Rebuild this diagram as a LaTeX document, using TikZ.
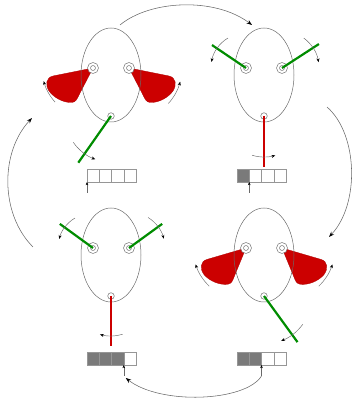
\documentclass[tikz,border=0pt]{standalone}
\usetikzlibrary{arrows.meta,calc,shapes.geometric}
\definecolor{camred}{RGB}{204,0,0}
\definecolor{leggreen}{RGB}{0,140,0}
\definecolor{linegray}{RGB}{105,105,105}
\definecolor{cellgray}{RGB}{122,122,122}
\definecolor{cellline}{RGB}{150,150,150}
\tikzset{
  x=1pt, y=1pt,
  oval/.style={ellipse, draw=linegray, line width=0.5pt, minimum width=60pt, minimum height=94pt, inner sep=0pt},
  camshape/.style={fill=camred, draw=camred!85!black, line width=0.3pt},
  greenleg/.style={draw=leggreen, line width=2.2pt},
  redleg/.style={draw=camred, line width=2.2pt},
  turn/.style={draw=linegray, line width=0.45pt, -{Stealth[length=3.8pt,width=3pt,black]}},
  flow/.style={draw=linegray, line width=0.55pt, -{Stealth[length=5.5pt,width=4pt,black]}},
  headarrow/.style={draw=linegray, line width=0.45pt, -{Stealth[length=3.2pt,width=2.6pt,black]}},
  cell/.style={rectangle, draw=cellline, line width=0.5pt, fill=white, minimum width=12.25pt, minimum height=12.5pt, inner sep=0pt, outer sep=0pt, anchor=south west},
  used/.style={fill=cellgray},
  joint/.style={draw=linegray, line width=0.45pt, fill=white},
}
% cam hinged at #1; #2 = 1 points left, -1 points right; #3 = extra tilt
\newcommand{\camat}[3]{%
  \path[camshape, shift={(#1)}, xscale=#2, rotate=#3]
    (0,0) -- (-40,-8)
    .. controls (-47,-9.5) and (-48,-17) .. (-44,-23)
    .. controls (-39,-30) and (-29,-35) .. (-21,-34.5)
    .. controls (-17,-34) and (-16,-31) .. (-14,-27) -- cycle;}
% double-ring hinge
\newcommand{\ringjoint}[1]{%
  \draw[joint] (#1) circle[radius=5.5];
  \draw[joint] (#1) circle[radius=2.5];}
% small single hinge
\newcommand{\smalljoint}[1]{\draw[joint] (#1) circle[radius=3.3];}
\begin{document}
\begin{tikzpicture}
\useasboundingbox (0,0) rectangle (352,402);

% body centres and hinge points
\foreach \n/\x/\y in {TL/111/327, TR/264/327, BL/111/147, BR/264/147}{
  \coordinate (\n) at (\x,\y);
  \coordinate (\n-l) at ($(\n)+(-18,7)$);
  \coordinate (\n-r) at ($(\n)+(18,7)$);
  \coordinate (\n-b) at ($(\n)+(0,-41)$);
}

% ---------- top left: cams out, green leg back ----------
\camat{TL-l}{1}{0}
\camat{TL-r}{-1}{0}
\node[oval] (TL-body) at (TL) {};
\ringjoint{TL-l}
\ringjoint{TL-r}
\smalljoint{TL-b}
\coordinate (TL-foot) at ($(TL-b)+(235:57)$);
\draw[greenleg] (TL-b) -- (TL-foot);
\draw[turn] ($(TL-l)+(222:51)$) arc[start angle=222, end angle=195, radius=51];
\draw[turn] ($(TL-r)+(318:53)$) arc[start angle=318, end angle=345, radius=53];
\draw[turn] ($(TL-b)+(215:46)$) arc[start angle=215, end angle=250, radius=46];

% ---------- top right: green legs up, red leg down ----------
\node[oval] (TR-body) at (TR) {};
\ringjoint{TR-l}
\ringjoint{TR-r}
\smalljoint{TR-b}
\coordinate (TR-lend) at ($(TR-l)+(146:41)$);
\coordinate (TR-rend) at ($(TR-r)+(33:44)$);
\coordinate (TR-foot) at ($(TR-b)+(270:51)$);
\draw[greenleg] (TR-l) -- (TR-lend);
\draw[greenleg] (TR-r) -- (TR-rend);
\draw[redleg] (TR-b) -- (TR-foot);
\draw[turn] ($(TR-l)+(121:35)$) arc[start angle=121, end angle=170, radius=35];
\draw[turn] ($(TR-r)+(54:37)$) arc[start angle=54, end angle=9, radius=37];
\draw[turn] ($(TR-b)+(253:41)$) arc[start angle=253, end angle=286, radius=41];

% ---------- bottom left: green legs up, red leg down ----------
\node[oval] (BL-body) at (BL) {};
\ringjoint{BL-l}
\ringjoint{BL-r}
\smalljoint{BL-b}
\coordinate (BL-lend) at ($(BL-l)+(144:41)$);
\coordinate (BL-rend) at ($(BL-r)+(36:41)$);
\coordinate (BL-foot) at ($(BL-b)+(270:50)$);
\draw[greenleg] (BL-l) -- (BL-lend);
\draw[greenleg] (BL-r) -- (BL-rend);
\draw[redleg] (BL-b) -- (BL-foot);
\draw[turn] ($(BL-l)+(121:35)$) arc[start angle=121, end angle=165, radius=35];
\draw[turn] ($(BL-r)+(58:36)$) arc[start angle=58, end angle=15, radius=36];
\draw[turn] ($(BL-b)+(287:40)$) arc[start angle=287, end angle=254, radius=40];

% ---------- bottom right: cams out, green leg forward ----------
\camat{BR-l}{1}{5}
\camat{BR-r}{-1}{5}
\node[oval] (BR-body) at (BR) {};
\ringjoint{BR-l}
\ringjoint{BR-r}
\smalljoint{BR-b}
\coordinate (BR-foot) at ($(BR-b)+(306:57)$);
\draw[greenleg] (BR-b) -- (BR-foot);
\draw[turn] ($(BR-l)+(226:53)$) arc[start angle=226, end angle=198, radius=53];
\draw[turn] ($(BR-r)+(314:53)$) arc[start angle=314, end angle=342, radius=53];
\draw[turn] ($(BR-b)+(324:48)$) arc[start angle=324, end angle=291, radius=48];

% ---------- step registers ----------
\node[cell] (TLc1) at (87,220) {};
\node[cell] (TLc2) at (TLc1.south east) {};
\node[cell] (TLc3) at (TLc2.south east) {};
\node[cell] (TLc4) at (TLc3.south east) {};

\node[cell,used] (TRc1) at (237,220) {};
\node[cell] (TRc2) at (TRc1.south east) {};
\node[cell] (TRc3) at (TRc2.south east) {};
\node[cell] (TRc4) at (TRc3.south east) {};

\node[cell,used] (BLc1) at (87,37) {};
\node[cell,used] (BLc2) at (BLc1.south east) {};
\node[cell,used] (BLc3) at (BLc2.south east) {};
\node[cell] (BLc4) at (BLc3.south east) {};

\node[cell,used] (BRc1) at (237,37) {};
\node[cell,used] (BRc2) at (BRc1.south east) {};
\node[cell] (BRc3) at (BRc2.south east) {};
\node[cell] (BRc4) at (BRc3.south east) {};

% register pointers
\coordinate (TL-ptr) at ($(TLc1.south west)+(0,-11)$);
\coordinate (TR-ptr) at ($(TRc1.south east)+(0,-11)$);
\coordinate (BL-ptr) at ($(BLc3.south east)+(0,-11)$);
\coordinate (BR-ptr) at ($(BRc2.south east)+(0,-11)$);
\draw[headarrow] (TL-ptr) -- (TLc1.south west);
\draw[headarrow] (TR-ptr) -- (TRc1.south east);
\draw[headarrow] (BL-ptr) -- (BLc3.south east);
\draw[headarrow] (BR-ptr) -- (BRc2.south east);

% ---------- transitions between the four states ----------
\coordinate (go1s) at (120,377);
\coordinate (go1e) at (252,377);
\draw[flow] (go1s) .. controls (150,402) and (215,405) .. (go1e);
\coordinate (go2s) at (327,295);
\coordinate (go2e) at (329,165);
\draw[flow] (go2s) .. controls (358,268) and (360,198) .. (go2e);
\coordinate (go3e) at ($(BL-ptr)+(2,-2)$);
\draw[flow] (BR-ptr) .. controls (245,0) and (160,-3) .. (go3e);
\coordinate (go4s) at (33,155);
\coordinate (go4e) at (32,284);
\draw[flow] (go4s) .. controls (0,188) and (0,250) .. (go4e);
\end{tikzpicture}
\end{document}
